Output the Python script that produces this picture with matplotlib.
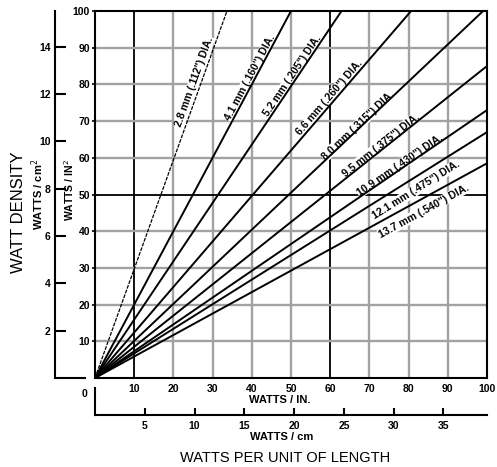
import numpy as np
import matplotlib
matplotlib.use("Agg")
import matplotlib.pyplot as plt

plt.rcParams["font.family"] = ["Liberation Sans", "DejaVu Sans"]

# -------------------------
# Data
# -------------------------
diameters = ['2.8 mm (.112") DIA.', '4.1 mm (.160") DIA.', '5.2 mm (.205") DIA.',
             '6.6 mm (.260") DIA.', '8.0 mm (.315") DIA.', '9.5 mm (.375") DIA.',
             '10.9 mm (.430") DIA.', '12.1 mm (.475") DIA.', '13.7 mm (.540") DIA.']
# watts / in2 each line would reach at 100 watts / in.
density_at_100 = [297, 200, 159, 124, 101, 85, 73, 67, 58.5]

x_ticks = [10, 20, 30, 40, 50, 60, 70, 80, 90, 100]
y_ticks = [10, 20, 30, 40, 50, 60, 70, 80, 90, 100]
cm_ticks = [5, 10, 15, 20, 25, 30, 35]
cm2_ticks = [2, 4, 6, 8, 10, 12, 14]

# label centres (watts / in., watts / in2)
label_x = [25.3, 39.5, 50.3, 59.7, 67.1, 73.0, 77.8, 81.9, 83.9]
label_y = [80.7, 82.0, 82.3, 76.3, 68.9, 63.5, 58.0, 51.2, 45.5]

GRAY = "#a2a2a2"
BOLD = dict(fontweight="bold", fontsize=7.5)

fig = plt.figure(figsize=(4.97, 4.67), dpi=100)
ax = fig.add_axes([0.1911, 0.1906, 0.7887, 0.7858])
ax.set_xlim(0, 100)
ax.set_ylim(0, 100)

# grid
for xv in x_ticks[:-1]:
    dark = xv in (10, 60)
    ax.axvline(xv, color="black" if dark else GRAY, lw=1.3 if dark else 1.7, zorder=1)
for yv in y_ticks[:-1]:
    dark = yv == 50
    ax.axhline(yv, color="black" if dark else GRAY, lw=1.3 if dark else 1.7, zorder=1)

for s in ax.spines.values():
    s.set_linewidth(1.5)

ax.set_xticks(x_ticks)
ax.set_yticks(y_ticks)
ax.set_xticklabels([str(v) for v in x_ticks], **BOLD)
ax.set_yticklabels([str(v) for v in y_ticks], **BOLD)
ax.tick_params(axis="x", length=0, pad=4)
ax.tick_params(axis="y", length=2.5, width=1.2, pad=1)

# diameter lines
for i, (name, d) in enumerate(zip(diameters, density_at_100)):
    if i == 0:
        ax.plot([0, 100], [0, d], color="black", lw=0.9, ls=(0, (3, 1)), zorder=3)
    else:
        ax.plot([0, 100], [0, d], color="black", lw=1.4, zorder=3)

fig.canvas.draw()
for name, d, lx, ly in zip(diameters, density_at_100, label_x, label_y):
    p0 = ax.transData.transform((0, 0))
    p1 = ax.transData.transform((100, d))
    ang = np.degrees(np.arctan2(p1[1] - p0[1], p1[0] - p0[0]))
    ax.text(lx, ly, name, rotation=ang, rotation_mode="anchor",
            ha="center", va="center", fontsize=7.6, fontweight="bold", zorder=2,
            bbox=dict(boxstyle="square,pad=0.05", fc="white", ec="none"))

# watts / cm2 axis on the far left
sec_y = ax.secondary_yaxis(-0.102, functions=(lambda v: v / 6.4516, lambda v: v * 6.4516))
sec_y.set_yticks(cm2_ticks)
sec_y.set_yticklabels([str(v) for v in cm2_ticks], **BOLD)
sec_y.tick_params(direction="in", length=8, width=1.5, pad=3)
sec_y.spines["left"].set_linewidth(1.5)
for i, t in enumerate(sec_y.yaxis.get_major_ticks()):
    t.tick1line.set_color(GRAY if i % 2 == 0 else "black")
ax.plot([-0.102, -0.026], [0, 0], transform=ax.transAxes, clip_on=False, color="black", lw=1.5)

# watts / cm axis underneath
sec_x = ax.secondary_xaxis(-0.1008, functions=(lambda v: v / 2.54, lambda v: v * 2.54))
sec_x.set_xticks(cm_ticks)
sec_x.set_xticklabels([str(v) for v in cm_ticks], **BOLD)
sec_x.tick_params(direction="in", length=5, width=1.5, pad=4)
sec_x.spines["bottom"].set_linewidth(1.5)
for i, t in enumerate(sec_x.xaxis.get_major_ticks()):
    t.tick1line.set_color("black" if i in (0, 3) else "#808080")
ax.plot([0, 0], [-0.027, -0.1008], transform=ax.transAxes, clip_on=False, color="black", lw=1.5)

# labels
ax.text(-0.028, -0.043, "0", transform=ax.transAxes, ha="center", va="center", **BOLD)
ax.text(0.472, -0.06, "WATTS / IN.", transform=ax.transAxes, ha="center", va="center",
        fontweight="bold", fontsize=8)
ax.text(0.477, -0.161, "WATTS / cm", transform=ax.transAxes, ha="center", va="center",
        fontweight="bold", fontsize=8)
fig.text(0.573, 0.019, "WATTS PER UNIT OF LENGTH", ha="center", va="center", fontsize=10.5)
fig.text(0.037, 0.546, "WATT DENSITY", rotation=90, ha="center", va="center", fontsize=12)
fig.text(0.076, 0.583, "WATTS / cm$^2$", rotation=90, ha="center", va="center",
         fontweight="bold", fontsize=8)
fig.text(0.140, 0.593, "WATTS / IN$^2$", rotation=90, ha="center", va="center",
         fontweight="bold", fontsize=7.5)

plt.savefig("out.png", dpi=100)
